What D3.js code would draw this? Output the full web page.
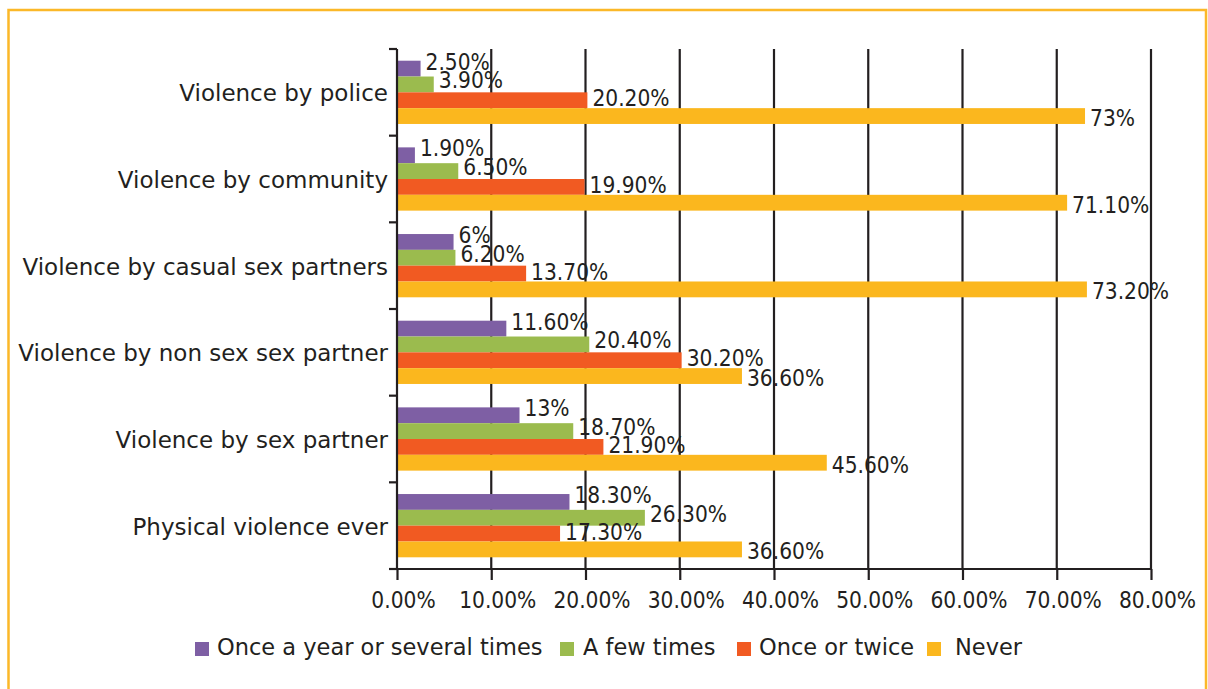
<!DOCTYPE html>
<html>
<head>
<meta charset="utf-8">
<script src="https://cdn.jsdelivr.net/npm/d3@7"></script>
<style>
  html, body { margin: 0; padding: 0; background: #ffffff; }
  svg { display: block; }
</style>
</head>
<body>
<script>
// ---- data ----
const categories = [
  "Violence by police",
  "Violence by community",
  "Violence by casual sex partners",
  "Violence by non sex sex partner",
  "Violence by sex partner",
  "Physical violence ever"
];
const seriesNames = ["Once a year or several times", "A few times", "Once or twice", "Never"];
const onceAYear = [2.5, 1.9, 6, 11.6, 13, 18.3];
const fewTimes = [3.9, 6.5, 6.2, 20.4, 18.7, 26.3];
const onceTwice = [20.2, 19.9, 13.7, 30.2, 21.9, 17.3];
const never = [73, 71.1, 73.2, 36.6, 45.6, 36.6];
const onceAYearLabels = ["2.50%", "1.90%", "6%", "11.60%", "13%", "18.30%"];
const fewTimesLabels = ["3.90%", "6.50%", "6.20%", "20.40%", "18.70%", "26.30%"];
const onceTwiceLabels = ["20.20%", "19.90%", "13.70%", "30.20%", "21.90%", "17.30%"];
const neverLabels = ["73%", "71.10%", "73.20%", "36.60%", "45.60%", "36.60%"];
const xTickValues = [0, 10, 20, 30, 40, 50, 60, 70, 80];
const xTickLabels = ["0.00%", "10.00%", "20.00%", "30.00%", "40.00%", "50.00%", "60.00%", "70.00%", "80.00%"];
const seriesColors = ["#7E5FA4", "#9BBB4E", "#F15A22", "#FBB71E"];

// ---- layout ----
const W = 1208, H = 689;
const ink = "#231F20";
const labelFont = "'DejaVu Sans', sans-serif";
const numFont = "'DejaVu Sans Condensed', 'DejaVu Sans', sans-serif";
const numSize = "22.5px";
const labelBaselineShift = [1, 4, 6, 10];

const series = [
  { name: seriesNames[0], values: onceAYear, labels: onceAYearLabels, color: seriesColors[0] },
  { name: seriesNames[1], values: fewTimes, labels: fewTimesLabels, color: seriesColors[1] },
  { name: seriesNames[2], values: onceTwice, labels: onceTwiceLabels, color: seriesColors[2] },
  { name: seriesNames[3], values: never, labels: neverLabels, color: seriesColors[3] }
];

const svg = d3.select("body").append("svg").attr("width", W).attr("height", H);

// frame
svg.append("rect")
  .attr("x", 8.5).attr("y", 10).attr("width", 1197.5).attr("height", 700)
  .attr("fill", "none").attr("stroke", "#FBB829").attr("stroke-width", 2.5);

const x = d3.scaleLinear().domain([0, 80]).range([397, 1151]);
const y = d3.scaleBand().domain(categories).range([49, 569]).paddingInner(0.27).paddingOuter(0.135);
const sub = d3.scaleBand().domain(d3.range(series.length)).range([0, y.bandwidth()]);

// vertical gridlines
svg.append("g").selectAll("line")
  .data(xTickValues.filter(v => v > 0))
  .join("line")
  .attr("x1", d => x(d)).attr("x2", d => x(d))
  .attr("y1", 49).attr("y2", 569)
  .attr("stroke", ink).attr("stroke-width", 2.2);

// bars
const gBars = svg.append("g");
series.forEach((s, si) => {
  gBars.append("g").selectAll("rect")
    .data(categories)
    .join("rect")
    .attr("x", x(0))
    .attr("y", c => y(c) + sub(si))
    .attr("width", (c, i) => x(s.values[i]) - x(0))
    .attr("height", sub.bandwidth())
    .attr("fill", s.color);
});

// x axis
const xAxis = d3.axisBottom(x)
  .tickValues(xTickValues)
  .tickFormat((d, i) => xTickLabels[i])
  .tickSize(11)
  .tickSizeOuter(0);
const gx = svg.append("g").attr("transform", "translate(0,569)").call(xAxis);
gx.select(".domain").attr("stroke", ink).attr("stroke-width", 2.2).attr("d", `M${x(0) - 8},0H${x(80)}`);
gx.selectAll(".tick line").attr("stroke", ink).attr("stroke-width", 2.2);
gx.selectAll(".tick text")
  .attr("y", 39).attr("dy", 0).attr("dx", 6)
  .attr("fill", ink)
  .style("font-family", numFont).style("font-size", numSize);

// y axis
const yAxisLine = svg.append("g");
yAxisLine.append("line")
  .attr("x1", x(0)).attr("x2", x(0)).attr("y1", 49).attr("y2", 569)
  .attr("stroke", ink).attr("stroke-width", 2.2);
const boundaries = d3.range(categories.length + 1).map(i => 49 + i * y.step());
yAxisLine.selectAll("line.tk")
  .data(boundaries)
  .join("line").attr("class", "tk")
  .attr("x1", x(0) - 8).attr("x2", x(0))
  .attr("y1", d => d).attr("y2", d => d)
  .attr("stroke", ink).attr("stroke-width", 2.2);

// category labels
svg.append("g").selectAll("text")
  .data(categories)
  .join("text")
  .attr("x", 388)
  .attr("y", c => y(c) + y.bandwidth() / 2 + 9)
  .attr("text-anchor", "end")
  .attr("fill", ink)
  .style("font-family", labelFont).style("font-size", "23px")
  .text(c => c);

// data labels
const gLab = svg.append("g");
series.forEach((s, si) => {
  gLab.append("g").selectAll("text")
    .data(categories)
    .join("text")
    .attr("x", (c, i) => x(s.values[i]) + 5)
    .attr("y", c => y(c) + sub(si) + sub.bandwidth() / 2 + labelBaselineShift[si])
    .attr("fill", ink)
    .style("font-family", numFont).style("font-size", numSize)
    .text((c, i) => s.labels[i]);
});

// legend
const legendSquareX = [195, 560, 737, 927];
const legendTextX = [217, 583, 759, 955];
const gLeg = svg.append("g");
series.forEach((s, si) => {
  gLeg.append("rect").attr("x", legendSquareX[si]).attr("y", 642).attr("width", 14).attr("height", 14).attr("fill", s.color);
  gLeg.append("text").attr("x", legendTextX[si]).attr("y", 655)
    .attr("fill", ink)
    .style("font-family", labelFont).style("font-size", "22.5px")
    .text(s.name);
});
</script>
</body>
</html>
